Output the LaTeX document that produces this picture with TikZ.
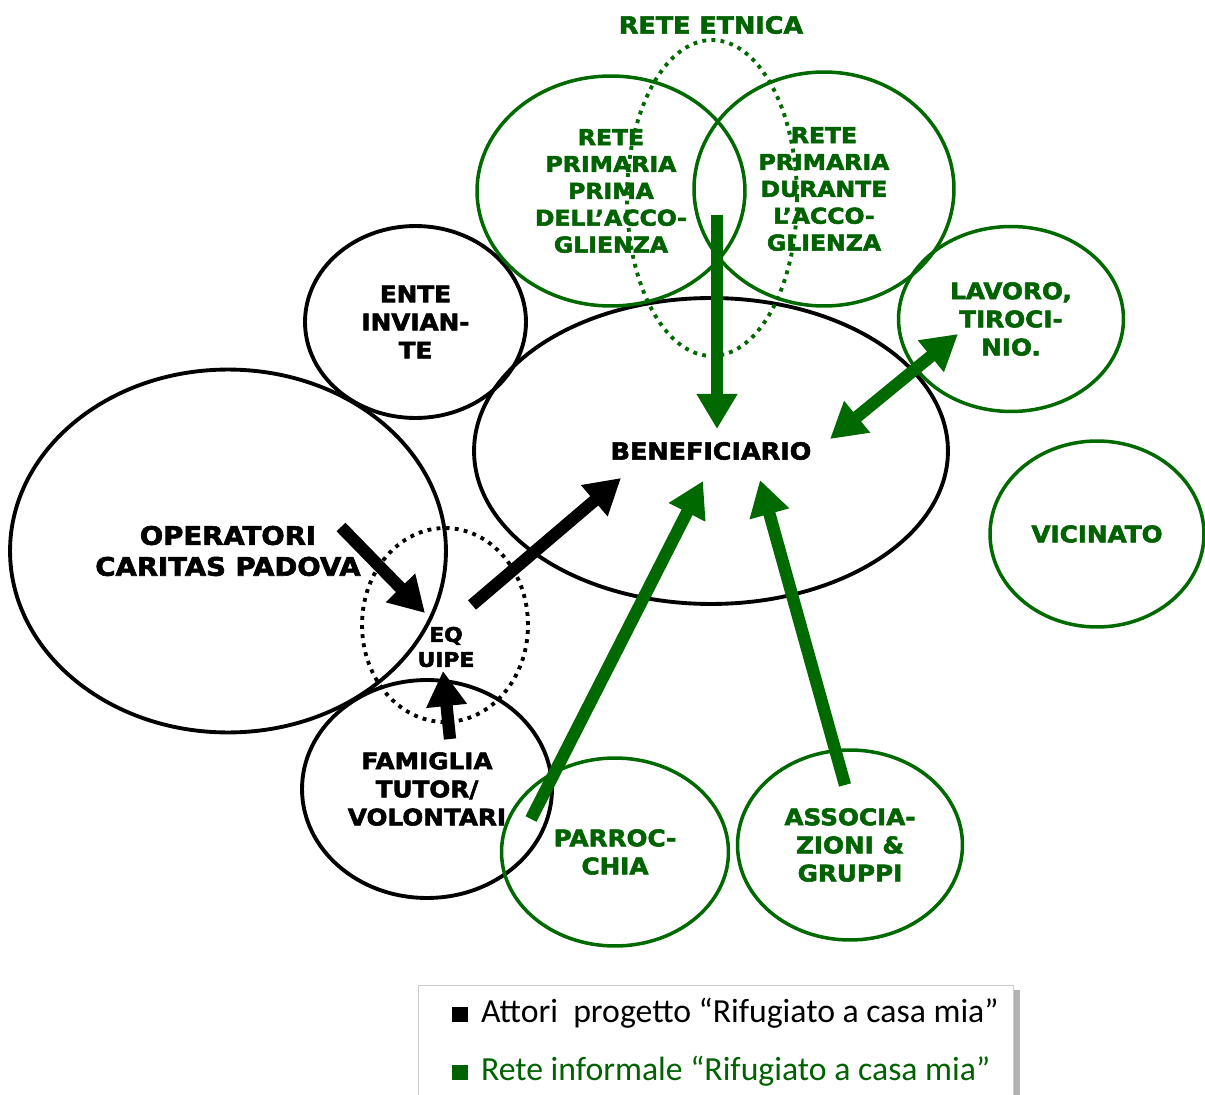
\documentclass[tikz,border=0pt]{standalone}
\usepackage{fontspec}
\usetikzlibrary{shapes.geometric,arrows.meta}
\newfontfamily\labfont{DejaVu Sans}[UprightFont={* Bold}, BoldFont={* Bold}, FakeStretch=1.08, FakeBold=2.5]
\newfontfamily\legfont{Carlito}
\definecolor{grn}{RGB}{0,105,0}
\definecolor{grntxt}{RGB}{0,98,0}
\newcommand{\lab}[2]{\labfont\fontsize{#1}{#2}\selectfont}
\begin{document}
\begin{tikzpicture}[x=0.02cm,y=-0.02cm,
  circ/.style={ellipse, draw, inner sep=0pt, align=center, font=\lab{13}{16}},
  blk/.style={circ, draw=black, text=black, line width=2.2pt},
  gcirc/.style={circ, draw=grn, text=grntxt, line width=2pt},
  dotc/.style={ellipse, draw, inner sep=0pt, line width=2.2pt, dash pattern=on 2.2pt off 3pt},
  barrow/.style={line width=7pt, black, -{Triangle[width=22pt,length=20pt]}},
  garrow/.style={line width=7pt, grn, -{Triangle[width=22pt,length=20pt]}},
  gdarrow/.style={line width=7pt, grn, {Triangle[width=22pt,length=20pt]}-{Triangle[width=22pt,length=20pt]}},
  legtext/.style={anchor=west, inner sep=0pt, font=\legfont\fontsize{19.2}{22}\selectfont}
]
\useasboundingbox (0,0) rectangle (1205,1095);

% black actors
\node[blk, minimum width=9.48cm, minimum height=6.12cm, font=\lab{13.4}{16}] (ben) at (711,451) {BENEFICIARIO};
\node[blk, minimum width=4.42cm, minimum height=3.84cm] (ente) at (415.5,322) {ENTE\\INVIAN-\\TE};
\node[blk, minimum width=8.72cm, minimum height=7.26cm, font=\lab{14.5}{17.6}] (oper) at (228,551) {OPERATORI\\CARITAS PADOVA};
\node[dotc, draw=black, minimum width=3.32cm, minimum height=3.88cm] (equipe) at (445,625) {};
\node[font=\lab{11.5}{14.2}, align=center, inner sep=0pt] (eqt) at (446,647) {EQ\\UIPE};
\node[blk, minimum width=5.0cm, minimum height=4.36cm] (fam) at (427,789) {FAMIGLIA\\TUTOR/\\VOLONTARI};

% green informal network
\node[gcirc, minimum width=5.36cm, minimum height=4.60cm, font=\lab{12.4}{15.3}] (prima) at (611,191) {RETE\\PRIMARIA\\PRIMA\\DELL’ACCO-\\GLIENZA};
\node[gcirc, minimum width=5.20cm, minimum height=4.68cm, font=\lab{12.4}{15.3}] (durante) at (824,189) {RETE\\PRIMARIA\\DURANTE\\L’ACCO-\\GLIENZA};
\node[dotc, draw=grn, minimum width=3.40cm, minimum height=6.32cm] (etnica) at (712,198) {};
\node[text=grntxt, font=\lab{13.4}{16}, inner sep=0pt] (etnicat) at (711,25) {RETE ETNICA};
\node[gcirc, minimum width=4.50cm, minimum height=3.70cm] (lavoro) at (1011,319) {LAVORO,\\TIROCI-\\NIO.};
\node[gcirc, minimum width=4.28cm, minimum height=3.72cm] (vicinato) at (1097,534) {VICINATO};
\node[gcirc, minimum width=4.54cm, minimum height=3.76cm] (parr) at (615,852) {PARROC-\\CHIA};
\node[gcirc, minimum width=4.50cm, minimum height=3.80cm] (assoc) at (850,845) {ASSOCIA-\\ZIONI \&\\GRUPPI};

% arrow end points
\coordinate (b1s) at (341,527); \coordinate (b1e) at (425,613);
\coordinate (b2s) at (472,605); \coordinate (b2e) at (621,478);
\coordinate (b3s) at (450,739); \coordinate (b3e) at (443,671);
\coordinate (g1s) at (717,215); \coordinate (g1e) at (717,429);
\coordinate (g2s) at (830,439); \coordinate (g2e) at (958,334);
\coordinate (g3s) at (531,819); \coordinate (g3e) at (703,481);
\coordinate (g4s) at (845,785); \coordinate (g4e) at (760,480);

\draw[barrow] (b1s) -- (b1e);
\draw[barrow] (b2s) -- (b2e);
\draw[barrow] (b3s) -- (b3e);
\draw[garrow] (g1s) -- (g1e);
\draw[gdarrow] (g2s) -- (g2e);
\draw[garrow] (g3s) -- (g3e);
\draw[garrow] (g4s) -- (g4e);

% legend
\fill[gray!60] (424,990) rectangle (1020,1110);
\node[draw=gray!40, fill=white, line width=0.8pt, minimum width=11.9cm, minimum height=2.5cm, anchor=north west, inner sep=0pt] (leg) at (418,985) {};
\node[legtext, text=black] (leg1) at (452,1013) {\rule{0.45em}{0.45em}\hspace{0.4em}Attori\ \ progetto “Rifugiato a casa mia”};
\node[legtext, text=grntxt] (leg2) at (452,1071) {\rule{0.45em}{0.45em}\hspace{0.4em}Rete informale “Rifugiato a casa mia”};
\end{tikzpicture}
\end{document}
